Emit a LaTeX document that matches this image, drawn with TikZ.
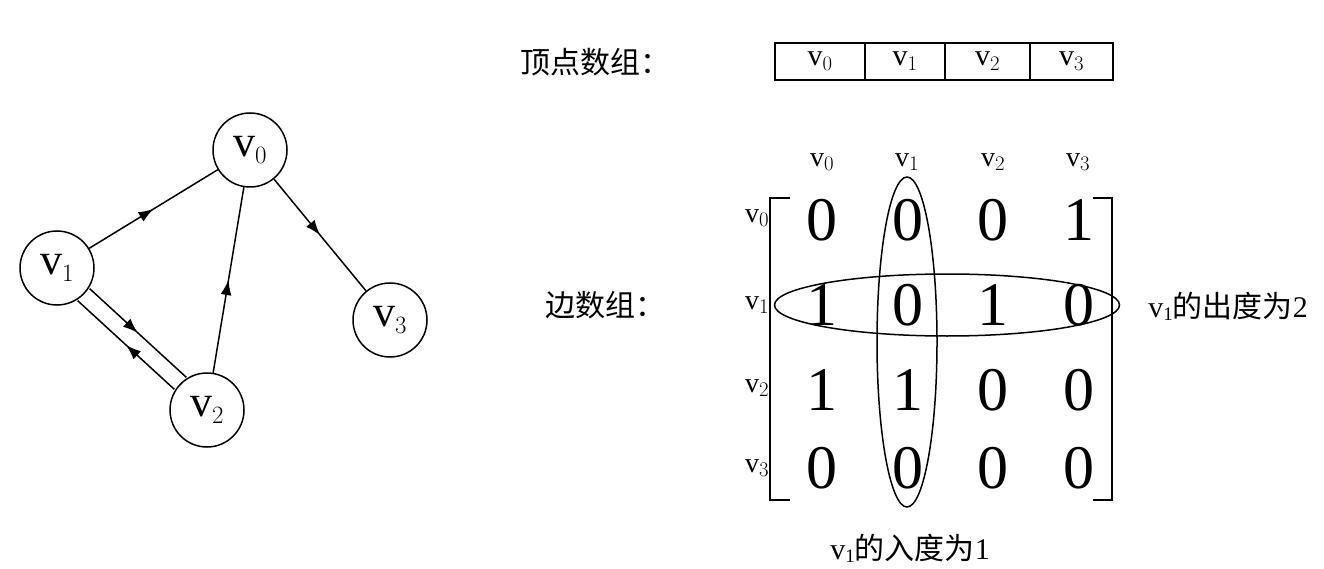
\documentclass[tikz,border=0pt]{standalone}
\usepackage{fontspec}
\setmainfont{Liberation Serif}
\newfontfamily\cjk{Noto Sans CJK SC}
\usetikzlibrary{decorations.markings,arrows.meta,shapes.geometric}
\begin{document}
\begin{tikzpicture}[x=1pt,y=-1pt,
 vert/.style={circle,draw,line width=1.5pt,minimum size=74pt,inner sep=0pt,font=\fontsize{44}{44}\selectfont},
 mid/.style={line width=1.5pt,decoration={markings,mark=at position 0.5 with {\arrow{Latex[length=15pt,width=11pt]}}},postaction={decorate}},
 cell/.style={draw,line width=1.5pt,minimum height=37pt,font=\fontsize{30}{30}\selectfont,inner sep=0pt},
 ent/.style={font=\fontsize{62}{62}\selectfont},
 hdr/.style={font=\fontsize{28}{28}\selectfont},
 lab/.style={font=\cjk\fontsize{30}{30}\selectfont}]
\useasboundingbox (0,0) rectangle (1324,569);
\node[vert] (v0) at (250,150) {v$_0$};
\node[vert] (v1) at (57,268) {v$_1$};
\node[vert] (v2) at (207,410) {v$_2$};
\node[vert] (v3) at (390,320) {v$_3$};
\draw[mid] (v1) -- (v0);
\draw[mid] (v0) -- (v3);
\draw[mid] (v2) -- (v0);
\draw[mid] ([shift={(6,-6)}]v1.-45) -- ([shift={(6,-6)}]v2.135);
\draw[mid] ([shift={(-6,6)}]v2.135) -- ([shift={(-6,6)}]v1.-45);
\node[lab] (l1) at (595,62) {顶点数组：};
\node[cell,minimum width=90pt] (a0) at (820,61.5) {v$_0$};
\node[cell,minimum width=80pt] (a1) at (905,61.5) {v$_1$};
\node[cell,minimum width=85pt] (a2) at (987.5,61.5) {v$_2$};
\node[cell,minimum width=83pt] (a3) at (1071.5,61.5) {v$_3$};
\foreach \x/\n in {822/0,907/1,993/2,1078/3} \node[hdr] (h\n) at (\x,162) {v$_\n$};
\foreach \y/\n in {218/0,305/1,388/2,468/3} \node[hdr] (r\n) at (757,\y) {v$_\n$};
\foreach \row/\y in {{0,0,0,1}/220,{1,0,1,0}/305,{1,1,0,0}/390,{0,0,0,0}/468}{
  \foreach \v [count=\i] in \row {
    \pgfmathsetmacro\xx{822+(\i-1)*85.5}
    \node[ent] (e\i\y) at (\xx,\y) {\v};}}
\draw[line width=1.8pt] (790,198) -- (770,198) -- (770,500) -- (790,500);
\draw[line width=1.8pt] (1093,198) -- (1112,198) -- (1112,500) -- (1093,500);
\node[draw,ellipse,line width=1.5pt,minimum width=60pt,minimum height=330pt] (ev) at (907,342) {};
\node[draw,ellipse,line width=1.5pt,minimum width=345pt,minimum height=62pt] (eh) at (947,305) {};
\node[lab] (l2) at (605,305) {边数组：};
\node[lab] (l3) at (1228,306) {\fontspec{Liberation Serif}v\raisebox{-3pt}{\fontsize{19}{19}\selectfont 1}\cjk 的出度为\fontspec{Liberation Serif}2};
\node[lab] (l4) at (910,548) {\fontspec{Liberation Serif}v\raisebox{-3pt}{\fontsize{19}{19}\selectfont 1}\cjk 的入度为\fontspec{Liberation Serif}1};
\end{tikzpicture}
\end{document}
